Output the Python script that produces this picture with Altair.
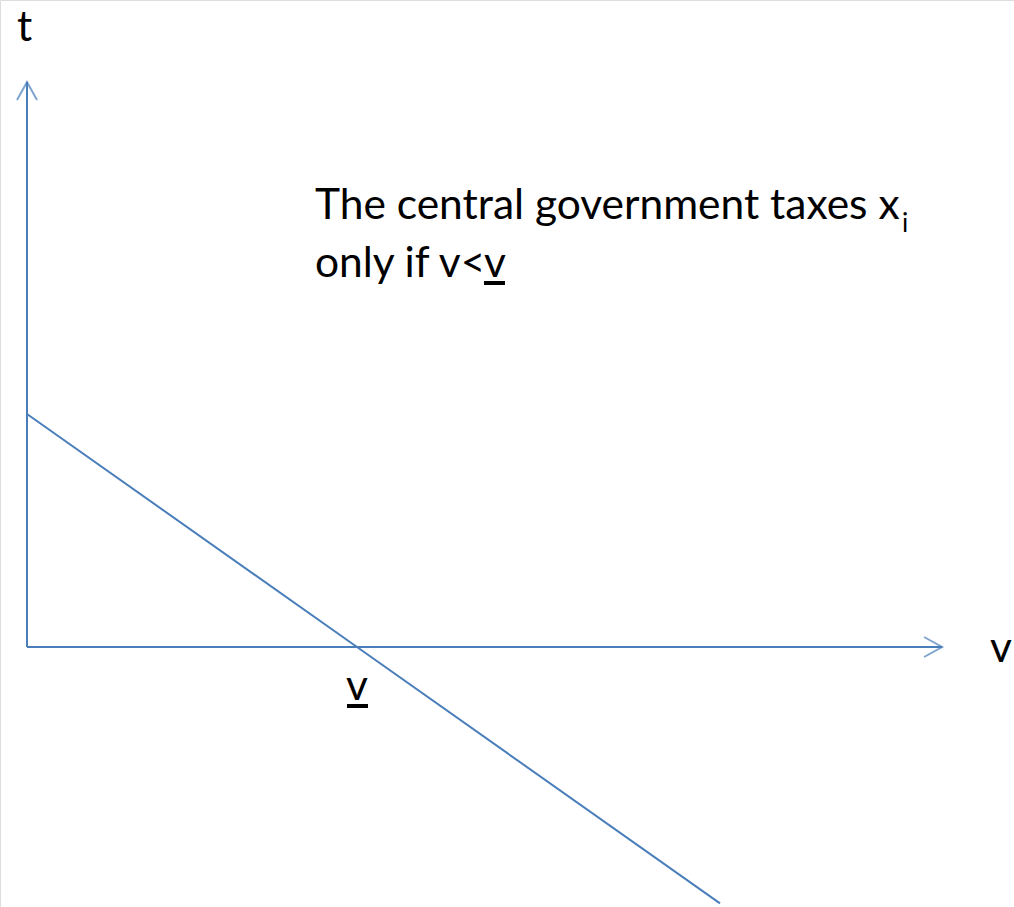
import altair as alt
import pandas as pd

# Axis extents and the tax schedule t(v), in model units
v_axis_v = [0.0, 27.73]
v_axis_t = [0.0, 0.0]
t_axis_v = [0.0, 0.0]
t_axis_t = [0.0, 17.12]
tax_v = [0.0, 10.0, 21.0]
tax_t = [7.06, 0.0, -7.77]
v_bar = 10.0

BLUE = "#4A7EBB"
FONT = "Lato"
FS = 42.5
W, H = 1014, 907

x_scale = alt.Scale(domain=[-27 / 33, (W - 27) / 33], nice=False, zero=False)
y_scale = alt.Scale(domain=[-(H - 647) / 33, 647 / 33], nice=False, zero=False)

def seg(vs, ts, name):
    return pd.DataFrame({"v": vs, "t": ts, "s": name, "o": range(len(vs))})

lines_df = pd.concat([
    seg(v_axis_v, v_axis_t, "vaxis"),
    seg(t_axis_v, t_axis_t, "taxis"),
    seg(tax_v, tax_t, "tax"),
])

X = alt.X("v:Q", scale=x_scale, axis=None)
Y = alt.Y("t:Q", scale=y_scale, axis=None)

lines = alt.Chart(lines_df).mark_line(color=BLUE, strokeWidth=2, clip=True).encode(
    x=X, y=Y, detail="s:N", order="o:Q"
)

# open arrowheads at the axis ends
heads_df = pd.DataFrame({
    "v": [v_axis_v[-1], t_axis_v[-1]],
    "t": [v_axis_t[-1], t_axis_t[-1]],
    "ang": [0, 270],
})
chevron = "M -1.8 -1 L 0 0 L -1.8 1"
heads = alt.Chart(heads_df).mark_point(
    shape=chevron, filled=False, stroke=BLUE, strokeWidth=2, size=400
).encode(x=X, y=Y, angle=alt.Angle("ang:Q", scale=None))

def label(text, x, y, size=FS, align="left"):
    return alt.Chart(pd.DataFrame({"l": [text]})).mark_text(
        font=FONT, fontSize=size, align=align, baseline="alphabetic", color="black"
    ).encode(x=alt.value(x), y=alt.value(y), text="l:N")

t_lab = label("t", 17, 41)
v_lab = label("v", 990, 662)

vbar_df = pd.DataFrame({"v": [v_bar], "t": [0.0], "l": ["v"]})
vbar_lab = alt.Chart(vbar_df).mark_text(
    font=FONT, fontSize=FS, align="center", baseline="alphabetic", dy=53, color="black"
).encode(x=X, y=Y, text="l:N")
vbar_ul = alt.Chart(vbar_df).mark_rule(color="black", strokeWidth=4).encode(
    x=alt.value(347), x2=alt.value(368), y=alt.value(706)
)

line1 = label("The central government taxes x", 315, 219)
sub_i = label("i", 902, 232, size=26)
line2 = label("only if v<", 315, 277)
line2_v = label("v", 484, 277)
line2_ul = alt.Chart(pd.DataFrame({"a": [0]})).mark_rule(color="black", strokeWidth=4).encode(
    x=alt.value(484), x2=alt.value(505), y=alt.value(283)
)

chart = alt.layer(
    lines, heads, t_lab, v_lab, vbar_lab, vbar_ul, line1, sub_i, line2, line2_v, line2_ul
).properties(
    width=W, height=H, autosize=alt.AutoSizeParams(type="none"), padding=0
).configure_view(stroke=None).configure(background="white")

chart.save("out.html", embed_options={"renderer": "svg", "actions": False})
